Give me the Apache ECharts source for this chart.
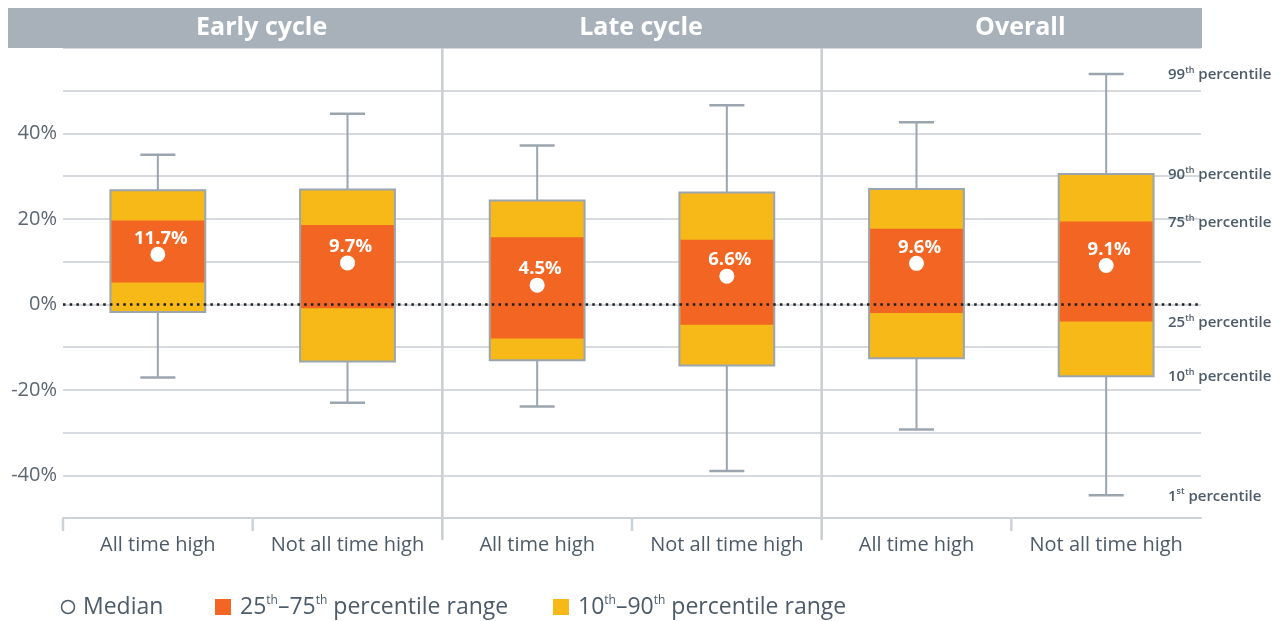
<!DOCTYPE html>
<html>
<head>
<meta charset="utf-8">
<script src="https://cdn.jsdelivr.net/npm/echarts@6/dist/echarts.min.js"></script>
<style>
html,body{margin:0;padding:0;background:#fff;}
#chart{width:1280px;height:621px;}
</style>
</head>
<body>
<div id="chart"></div>
<script>
// ---- data ----
const categories = ['All time high', 'Not all time high', 'All time high', 'Not all time high', 'All time high', 'Not all time high'];
const groups = ['Early cycle', 'Late cycle', 'Overall'];
const p1  = [-17.1, -23.0, -23.9, -39.0, -29.3, -44.7];
const p10 = [-1.8, -13.4, -13.1, -14.3, -12.6, -16.8];
const p25 = [5.1, -0.9, -8.0, -4.8, -2.0, -4.0];
const median = [11.7, 9.7, 4.5, 6.6, 9.6, 9.1];
const p75 = [19.6, 18.6, 15.7, 15.1, 17.7, 19.4];
const p90 = [26.7, 26.9, 24.3, 26.2, 27.0, 30.5];
const p99 = [35.0, 44.6, 37.2, 46.6, 42.6, 53.9];
const yLabelTicks = [40, 20, 0, -20, -40];
const noteNums = ['99', '90', '75', '25', '10', '1'];
const noteSups = ['th', 'th', 'th', 'th', 'th', 'st'];
const legendLabels = ['Median', '25th–75th percentile range', '10th–90th percentile range'];

// ---- style ----
const FONT = 'Open Sans';
const TXT = '#4d5b69';
const YELLOW = '#F6B918';
const ORANGE = '#F26522';
const BORDER = '#9ba5af';
const GRID = '#d6dadf';
const HEADER = '#a8b1b9';
const AXIS = '#cdd2d7';

const boxData = categories.map((c, i) => [i, p1[i], p10[i], p25[i], median[i], p75[i], p90[i], p99[i]]);

const chart = echarts.init(document.getElementById('chart'), null, {renderer: 'canvas'});

function renderBox(params, api) {
  const i = api.value(0);
  const xc = api.coord([i, 0])[0];
  const band = api.size([1, 0])[0];
  const bw = band * 0.5;
  const cw = band * 0.185;
  const y = v => api.coord([i, v])[1];
  const yp1 = y(api.value(1)), yp10 = y(api.value(2)), yp25 = y(api.value(3)),
        ymed = y(api.value(4)), yp75 = y(api.value(5)), yp90 = y(api.value(6)), yp99 = y(api.value(7));
  const ls = {stroke: BORDER, lineWidth: 2};
  return {
    type: 'group',
    children: [
      {type: 'line', shape: {x1: xc, y1: yp99, x2: xc, y2: yp90}, style: ls},
      {type: 'line', shape: {x1: xc, y1: yp10, x2: xc, y2: yp1}, style: ls},
      {type: 'line', shape: {x1: xc - cw / 2, y1: yp99, x2: xc + cw / 2, y2: yp99}, style: {stroke: BORDER, lineWidth: 2.5}},
      {type: 'line', shape: {x1: xc - cw / 2, y1: yp1, x2: xc + cw / 2, y2: yp1}, style: {stroke: BORDER, lineWidth: 2.5}},
      {type: 'rect', shape: {x: xc - bw / 2, y: yp90, width: bw, height: yp10 - yp90}, style: {fill: YELLOW, stroke: BORDER, lineWidth: 2}},
      {type: 'rect', shape: {x: xc - bw / 2 + 1, y: yp75, width: bw - 2, height: yp25 - yp75}, style: {fill: ORANGE}},
      {type: 'circle', shape: {cx: xc, cy: ymed, r: 7.5}, style: {fill: '#fff'}},
      {type: 'text', style: {text: api.value(4).toFixed(1) + '%', x: xc + 3, y: ymed - 16, align: 'center', verticalAlign: 'middle',
        fill: '#fff', fontFamily: FONT, fontWeight: 'bold', fontSize: 18.5}}
    ]
  };
}

chart.setOption({
  animation: false,
  grid: {left: 63, right: 79, top: 48, bottom: 103},
  xAxis: {
    type: 'category',
    data: categories,
    axisLine: {show: true, onZero: false, lineStyle: {color: AXIS, width: 2}},
    axisTick: {show: false},
    axisLabel: {interval: 0, color: TXT, fontFamily: FONT, fontSize: 20, margin: 17},
    splitLine: {show: false}
  },
  yAxis: {
    type: 'value',
    min: -50, max: 60, interval: 10,
    axisLine: {show: false},
    axisTick: {show: false},
    axisLabel: {
      color: '#5c6671', fontFamily: FONT, fontSize: 20, margin: 6,
      formatter: v => yLabelTicks.indexOf(v) >= 0 ? v + '%' : ''
    },
    splitLine: {show: true, lineStyle: {color: GRID, width: 2}}
  },
  series: [{
    type: 'custom',
    renderItem: renderBox,
    encode: {x: 0, y: [1, 2, 3, 4, 5, 6, 7]},
    data: boxData,
    z: 3,
    markLine: {
      silent: true,
      symbol: 'none',
      z: 10,
      label: {show: false},
      lineStyle: {color: '#1e1e1e', width: 2.5, type: [2.5, 4.2]},
      data: [{yAxis: 0}]
    }
  }]
});

// ---- decorations (header band, separators, ticks, annotations, legend) ----
function px(i) { return chart.convertToPixel({xAxisIndex: 0}, i); }
function py(v) { return chart.convertToPixel({yAxisIndex: 0}, v); }
const band = px(1) - px(0);
const axisY = py(-50);
const graphics = [];

graphics.push({type: 'rect', shape: {x: 8, y: 8, width: 1194, height: 40}, style: {fill: HEADER}, z: 20});
groups.forEach((g, k) => {
  const cx = (px(2 * k) + px(2 * k + 1)) / 2 + 9;
  graphics.push({type: 'text', z: 21, style: {text: g, x: cx, y: 28, align: 'center', verticalAlign: 'middle',
    fill: '#fff', fontFamily: FONT, fontWeight: 'bold', fontSize: 25}});
});
categories.forEach((c, i) => {
  const x = px(i) - band / 2;
  const isSep = i > 0 && i % 2 === 0;
  graphics.push({type: 'line', z: 1,
    shape: {x1: x, y1: isSep ? 48 : axisY, x2: x, y2: isSep ? 540 : axisY + 13},
    style: {stroke: isSep ? '#c9ced3' : AXIS, lineWidth: 2.5}});
});

const last = categories.length - 1;
const noteVals = [p99[last], p90[last], p75[last], p25[last], p10[last], p1[last]];
const noteRich = {
  n: {fontFamily: FONT, fontWeight: 600, fontSize: 15, fill: TXT, color: TXT},
  s: {fontFamily: FONT, fontWeight: 600, fontSize: 9, fill: TXT, color: TXT, verticalAlign: 'top', padding: [0, 0, 9, 0]}
};
noteNums.forEach((n, k) => {
  graphics.push({type: 'text', style: {text: '{n|' + n + '}{s|' + noteSups[k] + '}{n| percentile}', rich: noteRich,
    x: 1168, y: py(noteVals[k]) + 1, align: 'left', verticalAlign: 'middle'}});
});

const legRich = {
  t: {fontFamily: FONT, fontSize: 23, fill: TXT, color: TXT},
  s: {fontFamily: FONT, fontSize: 12, fill: TXT, color: TXT, verticalAlign: 'top', padding: [0, 0, 12, 0]}
};
function richify(str) {
  return str.replace(/(\d+)(th|st)/g, '$1\u0000$2\u0001').split(/(\u0000[a-z]+\u0001)/).filter(Boolean)
    .map(p => p[0] === '\u0000' ? '{s|' + p.slice(1, -1) + '}' : '{t|' + p + '}').join('');
}
const LY = 607;
graphics.push({type: 'circle', shape: {cx: 68, cy: LY, r: 6.5}, style: {fill: '#fff', stroke: TXT, lineWidth: 1.5}});
graphics.push({type: 'text', style: {text: richify(legendLabels[0]), rich: legRich, x: 83, y: LY, verticalAlign: 'middle'}});
graphics.push({type: 'rect', shape: {x: 215, y: LY - 8, width: 16, height: 16}, style: {fill: ORANGE}});
graphics.push({type: 'text', style: {text: richify(legendLabels[1]), rich: legRich, x: 240, y: LY, verticalAlign: 'middle'}});
graphics.push({type: 'rect', shape: {x: 553, y: LY - 8, width: 16, height: 16}, style: {fill: YELLOW}});
graphics.push({type: 'text', style: {text: richify(legendLabels[2]), rich: legRich, x: 578, y: LY, verticalAlign: 'middle'}});

chart.setOption({graphic: graphics});
</script>
</body>
</html>
